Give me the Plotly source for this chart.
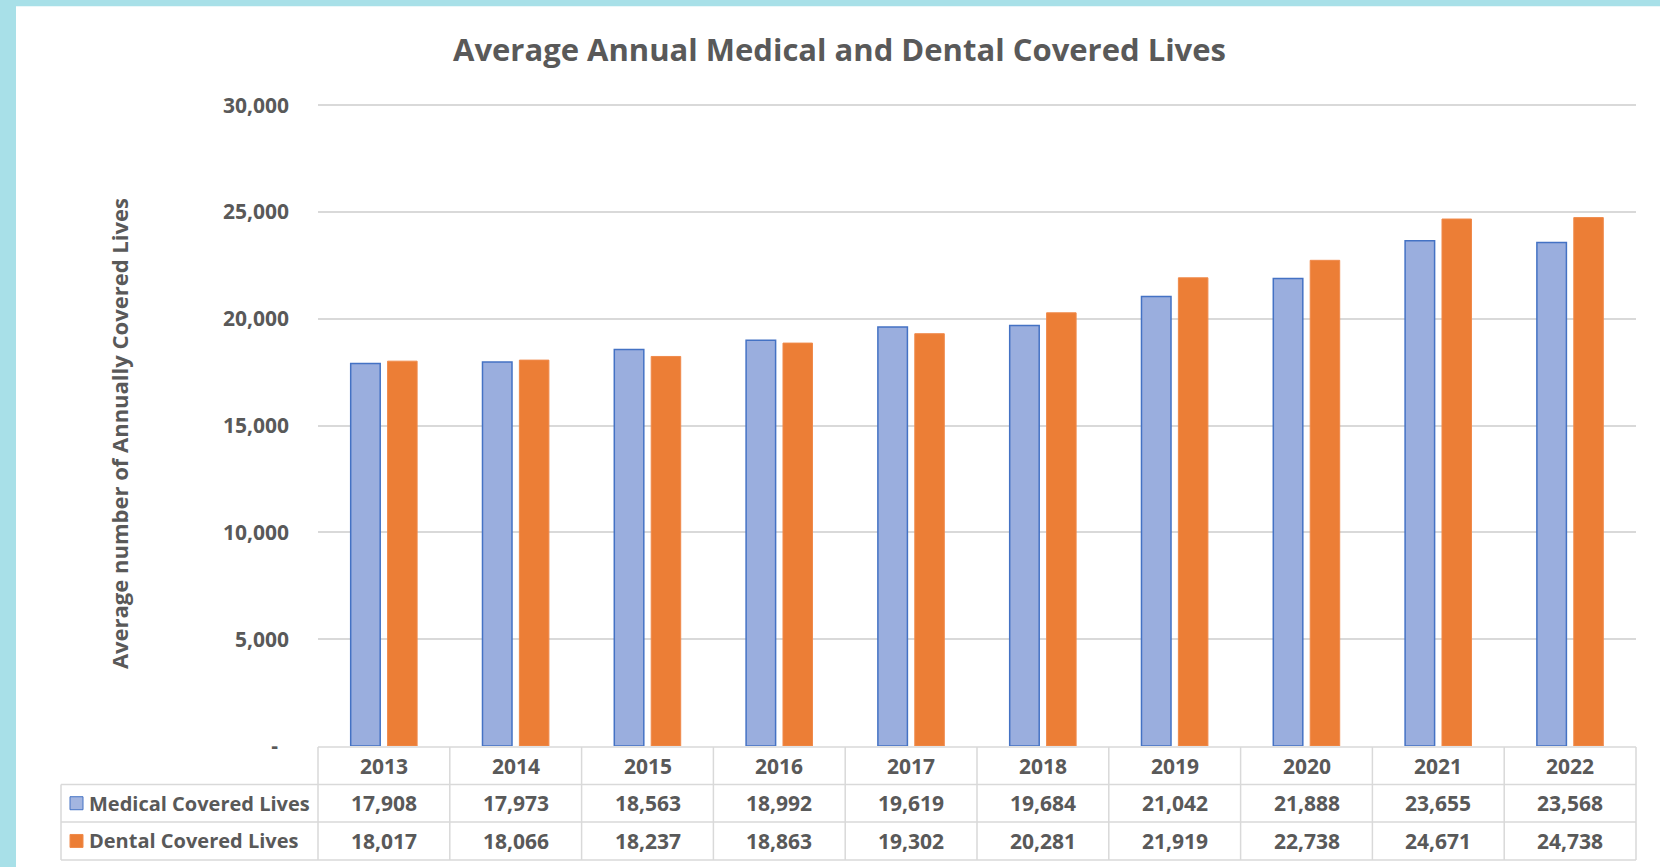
import plotly.graph_objects as go

# ---------------- data ----------------
years = ["2013", "2014", "2015", "2016", "2017", "2018", "2019", "2020", "2021", "2022"]
medical = [17908, 17973, 18563, 18992, 19619, 19684, 21042, 21888, 23655, 23568]
dental = [18017, 18066, 18237, 18863, 19302, 20281, 21919, 22738, 24671, 24738]
series_names = ["Medical Covered Lives", "Dental Covered Lives"]
y_tick_vals = [0, 5000, 10000, 15000, 20000, 25000, 30000]
y_tick_text = ["-\u00a0\u00a0", "5,000", "10,000", "15,000", "20,000", "25,000", "30,000"]
title_text = "Average Annual Medical and Dental Covered Lives"
y_title = "Average number of Annually Covered Lives"

# ---------------- style / layout ----------------
W, H = 1660, 867
YMAX = 30150
L, R, B = 318, 1636, 746
T = B - 641 * YMAX / 30000          # so that 30,000 sits at y=105 px
TXT = "#595959"
GRID = "#D9D9D9"
FONT = "Open Sans"
MED_FILL, MED_LINE = "#9AAEDE", "#4472C4"
DEN_FILL, DEN_LINE = "#EC7E36", "#F08A4B"


def px(xp):
    return (xp - L) / (R - L)


def py(yp):
    return (B - yp) / (B - T)


def fmt(v):
    return f"{v:,}"


fig = go.Figure()
fig.add_trace(go.Bar(x=years, y=medical, name=series_names[0],
                     marker=dict(color=MED_FILL, line=dict(color=MED_LINE, width=1.5))))
fig.add_trace(go.Bar(x=years, y=dental, name=series_names[1],
                     marker=dict(color=DEN_FILL, line=dict(color=DEN_LINE, width=1))))

shapes = []
annotations = []

# background: cyan frame with white card
shapes.append(dict(type="rect", xref="paper", yref="paper", layer="below",
                   x0=px(16), x1=px(W + 5), y0=py(6), y1=py(H + 5),
                   fillcolor="white", line=dict(width=0)))

# table geometry
row_y = [747, 784.5, 822, 860]
tbl_left = 61
line = dict(color=GRID, width=1.5)
n = len(years)
shapes.append(dict(type="line", xref="paper", yref="paper", x0=0, x1=1,
                   y0=py(row_y[0]), y1=py(row_y[0]), line=line))
for yy in row_y[1:]:
    shapes.append(dict(type="line", xref="paper", yref="paper", x0=px(tbl_left), x1=1,
                       y0=py(yy), y1=py(yy), line=line))
for k in range(n + 1):
    shapes.append(dict(type="line", xref="x domain", yref="paper", x0=k / n, x1=k / n,
                       y0=py(row_y[0]), y1=py(row_y[-1]), line=line))
shapes.append(dict(type="line", xref="paper", yref="paper", x0=px(tbl_left), x1=px(tbl_left),
                   y0=py(row_y[1]), y1=py(row_y[-1]), line=line))

cell_font = dict(family=FONT, size=21, color=TXT, weight=700)
label_font = dict(family=FONT, size=20, color=TXT, weight=700)
for i, yr in enumerate(years):
    xd = (i + 0.5) / n
    for r, txt in enumerate([yr, fmt(medical[i]), fmt(dental[i])]):
        annotations.append(dict(x=xd, xref="x domain", y=py((row_y[r] + row_y[r + 1]) / 2),
                                yref="paper", xanchor="center", yanchor="middle",
                                text=txt, showarrow=False, font=cell_font))

# legend keys + labels
for r, (name, fill, lc) in enumerate([(series_names[0], "#A3B5E0", MED_LINE),
                                       (series_names[1], DEN_FILL, DEN_LINE)]):
    yc = (row_y[r + 1] + row_y[r + 2]) / 2
    shapes.append(dict(type="rect", xref="paper", yref="paper",
                       x0=px(70), x1=px(83), y0=py(yc - 6.5), y1=py(yc + 6.5),
                       fillcolor=fill, line=dict(color=lc, width=1)))
    annotations.append(dict(x=px(87), xref="paper", y=py(yc), yref="paper",
                            xanchor="left", yanchor="middle",
                            text=name, showarrow=False, font=label_font))

# y axis title
annotations.append(dict(x=px(119), xref="paper", y=py(434), yref="paper", text=y_title,
                        xanchor="center", yanchor="middle", textangle=-90, showarrow=False,
                        font=dict(family=FONT, size=22, color=TXT, weight=700)))

fig.update_layout(
    width=W, height=H, autosize=False,
    margin=dict(l=L, r=W - R, t=T, b=H - B, pad=0),
    paper_bgcolor="#A8E0E8", plot_bgcolor="white",
    showlegend=False,
    barmode="group", bargap=0.44, bargroupgap=0.2,
    title=dict(text=title_text, x=839.5 / W, xref="container", xanchor="center",
               y=1 - 50 / H, yref="container", yanchor="middle",
               font=dict(family=FONT, size=31, color=TXT, weight=700)),
    xaxis=dict(type="category", showticklabels=False, showgrid=False, zeroline=False,
               showline=False, ticks="", range=[-0.5, n - 0.5]),
    yaxis=dict(range=[0, YMAX], tickvals=y_tick_vals, ticktext=y_tick_text,
               showgrid=True, gridcolor=GRID, gridwidth=1.5, zeroline=False,
               showline=False, ticks="", ticklabelstandoff=28,
               tickfont=dict(family=FONT, size=21, color=TXT, weight=700)),
    shapes=shapes, annotations=annotations,
)

fig.write_html("out.html")
